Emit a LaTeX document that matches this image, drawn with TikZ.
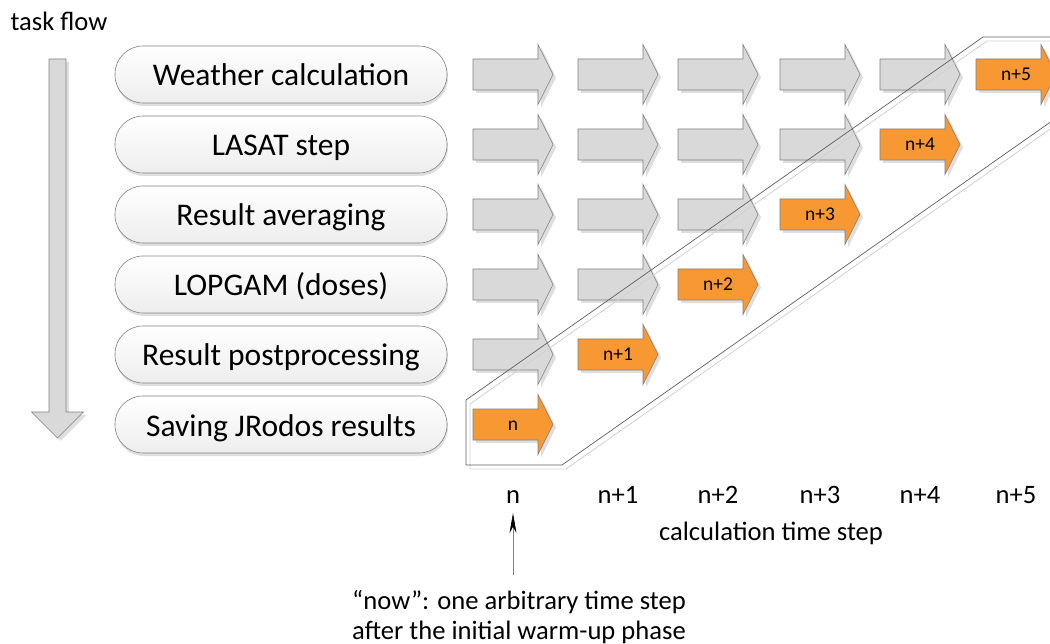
\documentclass[tikz,border=0pt]{standalone}
\usepackage{fontspec}
\setmainfont{Carlito}
\usetikzlibrary{arrows.meta,positioning,shadows}

\definecolor{stepfill}{RGB}{217,217,217}
\definecolor{stepline}{RGB}{128,128,128}
\definecolor{nowfill}{RGB}{248,152,50}
\definecolor{frameline}{RGB}{95,95,95}

% label of time step #1: n, n+1, ...
\newcommand{\steptext}[1]{n\ifnum#1>1 +\the\numexpr#1-1\relax\fi}

\tikzset{
  pics/steparrow/.style={code={
    \fill[black!13, shift={(3,3)}] (0,-15.5) -- (65,-15.5) -- (65,-30) -- (80,0)
      -- (65,30) -- (65,15.5) -- (0,15.5) -- cycle;
    \draw[fill=#1, draw=stepline, line width=0.6pt] (0,-15.5) -- (65,-15.5) -- (65,-30)
      -- (80,0) -- (65,30) -- (65,15.5) -- (0,15.5) -- cycle;
  }},
  taskbox/.style={draw=stepline, line width=0.6pt, rounded corners=28pt,
    minimum width=332pt, minimum height=57pt, top color=white, bottom color=black!7,
    drop shadow={shadow xshift=1pt, shadow yshift=-3pt, opacity=0.25},
    font=\fontsize{31.5}{36}\selectfont, text height=23pt, text depth=0pt, inner sep=0pt},
  steplabel/.style={font=\fontsize{19.5}{22}\selectfont, text height=12pt,
    text depth=0pt, inner sep=0pt},
  timelabel/.style={font=\fontsize{26.6}{30}\selectfont, inner sep=0pt, anchor=base},
}

\begin{document}
\begin{tikzpicture}[x=1pt, y=-1pt]
  \useasboundingbox (0,0) rectangle (1050,644);

  % task flow arrow
  \node[timelabel, anchor=center] (flow) at (59,21) {task flow};
  \fill[black!13, shift={(3,3)}] (49,59) -- (66,59) -- (66,412) -- (83.5,412)
    -- (57.5,438) -- (31.5,412) -- (49,412) -- cycle;
  \draw[fill=stepfill, draw=stepline, line width=0.6pt] (49,59) -- (66,59) -- (66,412)
    -- (83.5,412) -- (57.5,438) -- (31.5,412) -- (49,412) -- cycle;

  % tasks
  \foreach \task [count=\r] in {Weather calculation, LASAT step, Result averaging,
      LOPGAM (doses), Result postprocessing, Saving JRodos results}
    \node[taskbox] (task\r) at (281, 4.5+70*\r) {\task};

  % time steps
  \foreach \xc [count=\c] in {473,578,678,780,880,976} {
    \foreach \r in {1,...,6} {
      \pgfmathtruncatemacro\k{\c+\r}
      \ifnum\k<7
        \pic at (\xc, 4.5+70*\r) {steparrow=stepfill};
      \fi
      \ifnum\k=7
        \pic at (\xc, 4.5+70*\r) {steparrow=nowfill};
        \node[steplabel] (now\c) at (\xc+40, 4.5+70*\r) {\steptext{\c}};
      \fi
    }
    \node[timelabel] (time\c) at (\xc+40, 503) {\steptext{\c}};
  }

  % current window
  \draw[black!18, line width=0.8pt] (1064,41) -- (987,41) -- (470,404) -- (470,469)
    -- (566,469) -- (1083,106);
  \draw[frameline, line width=0.7pt] (1060,37) -- (983,37) -- (466,400) -- (466,465)
    -- (562,465) -- (1079,102);

  \node[timelabel] (axis) at (771,540) {calculation time step};
  \node[timelabel] (remark1) at (519,609) {“now”: one arbitrary time step};
  \node[timelabel] (remark2) at (519,639) {after the initial warm-up phase};

  \coordinate (nowtail) at ([yshift=-72pt]time1.south);
  \draw[stepline, line width=0.6pt, -{Stealth[length=20pt, width=7pt, black]}]
    (nowtail) -- ([yshift=-10pt]time1.south);
\end{tikzpicture}
\end{document}
